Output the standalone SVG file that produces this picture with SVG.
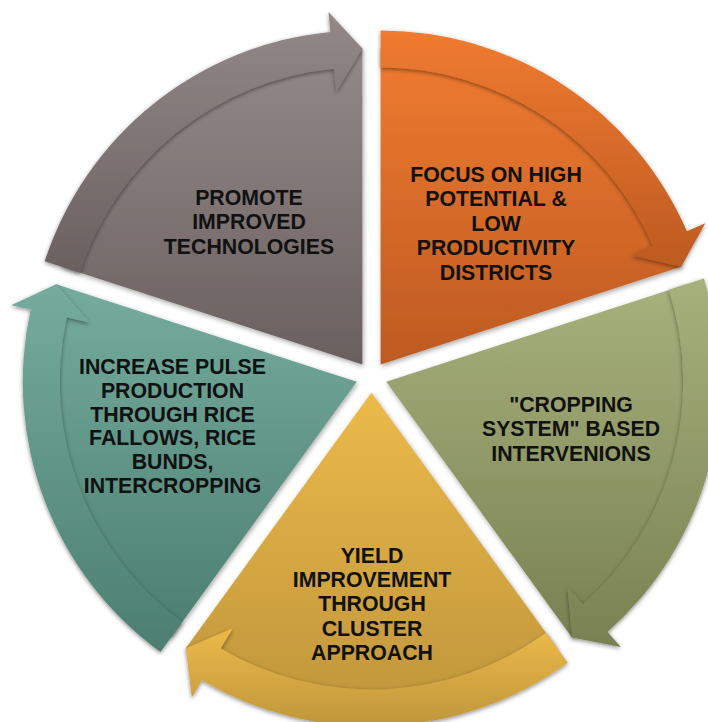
<svg xmlns="http://www.w3.org/2000/svg" width="708" height="722" viewBox="0 0 708 722">
<defs>
<linearGradient id="gGray" x1="0" y1="0" x2="0" y2="1"><stop offset="0" stop-color="#938988"/><stop offset="1" stop-color="#6a605f"/></linearGradient>
<linearGradient id="gOrange" x1="0" y1="0" x2="0" y2="1"><stop offset="0" stop-color="#f07b30"/><stop offset="1" stop-color="#bd5a22"/></linearGradient>
<linearGradient id="gOlive" x1="0" y1="0" x2="0" y2="1"><stop offset="0" stop-color="#a7b17c"/><stop offset="1" stop-color="#798152"/></linearGradient>
<linearGradient id="gYellow" x1="0" y1="0" x2="0" y2="1"><stop offset="0" stop-color="#ecba4a"/><stop offset="1" stop-color="#c0963c"/></linearGradient>
<linearGradient id="gTeal" x1="0" y1="0" x2="0" y2="1"><stop offset="0" stop-color="#75ac9e"/><stop offset="1" stop-color="#4c7e71"/></linearGradient>
<filter id="segShadow" x="-10%" y="-10%" width="125%" height="125%"><feDropShadow dx="1" dy="2" stdDeviation="2.5" flood-color="#000" flood-opacity="0.35"/></filter>
<filter id="bandShadow" x="-10%" y="-10%" width="125%" height="125%"><feDropShadow dx="0" dy="1.5" stdDeviation="2" flood-color="#000" flood-opacity="0.45"/></filter>
</defs>
<style>
.lbl{font-family:"Liberation Sans",Arial,sans-serif;font-weight:bold;font-size:21.3px;fill:#111;text-anchor:middle}
.pie{filter:url(#segShadow)}
.band{filter:url(#bandShadow)}
</style>
<rect width="708" height="722" fill="#fff"/>
<g id="node-gray">
<path class="pie" fill="url(#gGray)" d="M362.389,364.460 L61.855,266.811 A316,316 0 0 1 362.389,48.460 Z"/>
<text class="lbl" x="249" y="205">PROMOTE</text>
<text class="lbl" x="249" y="229.3">IMPROVED</text>
<text class="lbl" x="249" y="253.5">TECHNOLOGIES</text>
</g>
<g id="node-orange">
<path class="pie" fill="url(#gOrange)" d="M380.611,364.460 L380.611,48.460 A316,316 0 0 1 681.145,266.811 Z"/>
<text class="lbl" x="496" y="181.5">FOCUS ON HIGH</text>
<text class="lbl" x="496" y="206.1">POTENTIAL &amp;</text>
<text class="lbl" x="496" y="230.7">LOW</text>
<text class="lbl" x="496" y="255.3">PRODUCTIVITY</text>
<text class="lbl" x="496" y="279.9">DISTRICTS</text>
</g>
<g id="node-olive">
<path class="pie" fill="url(#gOlive)" d="M386.241,381.790 L686.775,284.141 A316,316 0 0 1 571.981,637.439 Z"/>
<text class="lbl" x="571" y="411.7">"CROPPING</text>
<text class="lbl" x="571" y="436.2">SYSTEM" BASED</text>
<text class="lbl" x="571" y="460.5">INTERVENIONS</text>
</g>
<g id="node-yellow">
<path class="pie" fill="url(#gYellow)" d="M371.5,392.5 L557.240,648.149 A316,316 0 0 1 185.760,648.149 Z"/>
<text class="lbl" x="372" y="563">YIELD</text>
<text class="lbl" x="372" y="587.2">IMPROVEMENT</text>
<text class="lbl" x="372" y="611.4">THROUGH</text>
<text class="lbl" x="372" y="635.6">CLUSTER</text>
<text class="lbl" x="372" y="659.8">APPROACH</text>
</g>
<g id="node-teal">
<path class="pie" fill="url(#gTeal)" d="M356.759,381.790 L171.019,637.439 A316,316 0 0 1 56.225,284.141 Z"/>
<text class="lbl" x="172.5" y="374">INCREASE PULSE</text>
<text class="lbl" x="172.5" y="397.8">PRODUCTION</text>
<text class="lbl" x="172.5" y="421.6">THROUGH RICE</text>
<text class="lbl" x="172.5" y="445.4">FALLOWS, RICE</text>
<text class="lbl" x="172.5" y="469.2">BUNDS,</text>
<text class="lbl" x="172.5" y="493">INTERCROPPING</text>
</g>
<g id="connectors">
<path id="arrow-gray" class="band" fill="url(#gGray)" d="M44.736,261.248 A334,334 0 0 1 330.376,31.998 L328.460,12.090 L362.389,48.460 L336.175,92.219 L333.923,68.827 A297,297 0 0 0 79.925,272.682 Z"/>
<path id="arrow-orange" class="band" fill="url(#gOrange)" d="M380.611,30.460 A334,334 0 0 1 686.909,231.278 L705.250,223.303 L681.145,266.811 L631.427,255.402 L652.978,246.032 A297,297 0 0 0 380.611,67.460 Z"/>
<path id="arrow-olive" class="band" fill="url(#gOlive)" d="M703.894,278.578 A334,334 0 0 1 607.556,631.941 L620.808,646.920 L571.981,637.439 L567.468,586.629 L583.039,604.230 A297,297 0 0 0 668.705,290.012 Z"/>
<path id="arrow-yellow" class="band" fill="url(#gYellow)" d="M567.820,662.712 A334,334 0 0 1 201.982,680.284 L191.832,697.517 L185.760,648.149 L232.688,628.156 L220.761,648.404 A297,297 0 0 0 546.072,632.778 Z"/>
<path id="arrow-teal" class="band" fill="url(#gTeal)" d="M160.439,652.002 A334,334 0 0 1 30.676,309.499 L11.150,305.170 L56.225,284.141 L89.742,322.594 L66.799,317.507 A297,297 0 0 0 182.187,622.068 Z"/>
</g>
</svg>
